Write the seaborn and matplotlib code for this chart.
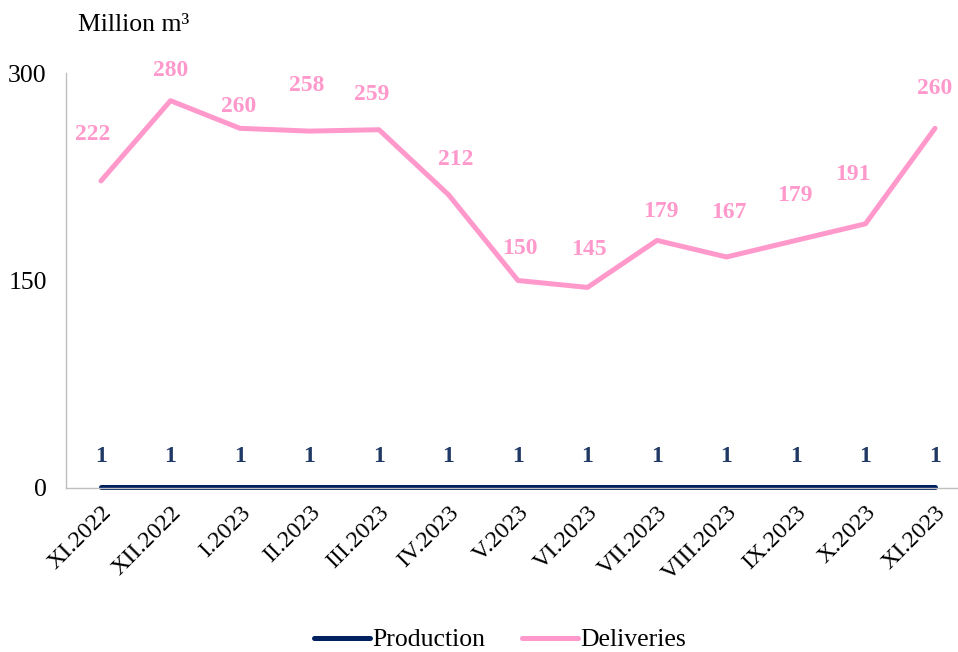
import pandas as pd
import matplotlib.pyplot as plt
import seaborn as sns

sns.set_theme(style="white")
plt.rcParams["font.family"] = ["Liberation Serif", "DejaVu Serif"]
plt.rcParams["text.color"] = "black"

# data
months = ["XI.2022", "XII.2022", "I.2023", "II.2023", "III.2023", "IV.2023",
          "V.2023", "VI.2023", "VII.2023", "VIII.2023", "IX.2023", "X.2023", "XI.2023"]
production = [1, 1, 1, 1, 1, 1, 1, 1, 1, 1, 1, 1, 1]
deliveries = [222, 280, 260, 258, 259, 212, 150, 145, 179, 167, 179, 191, 260]

# label nudges in pixels (dx, dy) to mimic the hand-placed labels
deliv_nudge = [(-8, 46), (0, 30), (-1, 22), (-3, 46), (-7, 35), (7, 35), (2, 32),
               (1, 38), (4, 29), (2, 44), (-1, 45), (-13, 49), (0, 40)]

df = pd.DataFrame({
    "month": months * 2,
    "value": production + deliveries,
    "series": ["Production"] * len(months) + ["Deliveries"] * len(months),
})

NAVY = "#002060"
PINK = "#FF99CC"

fig = plt.figure(figsize=(9.58, 6.52), dpi=100)
ax = fig.add_axes([66.25 / 958, 1 - 488 / 652, 903.5 / 958, 415 / 652])

sns.lineplot(data=df, x="month", y="value", hue="series", sort=False,
             palette={"Production": NAVY, "Deliveries": PINK},
             linewidth=3.6, ax=ax, legend=False)
for ln in ax.lines:
    ln.set_solid_capstyle("round")
    ln.set_clip_on(False)

ax.set_xlim(-0.5, len(months) - 0.5)
ax.set_ylim(0, 300)
ax.set_yticks([0, 150, 300])
ax.set_xlabel("")
ax.set_ylabel("")
ax.tick_params(axis="y", length=0, pad=14, labelsize=18.5, colors="black")
ax.tick_params(axis="x", length=0, pad=10, labelsize=17.5, colors="black")
ax.set_xticks(range(len(months)))
ax.set_xticklabels(months, rotation=45, ha="right", rotation_mode="anchor")
for side in ["top", "right"]:
    ax.spines[side].set_visible(False)
for side in ["left", "bottom"]:
    ax.spines[side].set_color("#BFBFBF")
    ax.spines[side].set_linewidth(1)
ax.grid(False)

px = 0.72  # points per pixel at dpi 100
for i, v in enumerate(deliveries):
    dx, dy = deliv_nudge[i]
    ax.annotate(str(v), (i, v), xytext=(dx * px, dy * px), textcoords="offset points",
                ha="center", va="center", color=PINK, fontsize=17, fontweight="bold")
for i, v in enumerate(production):
    ax.annotate(str(v), (i, v), xytext=(0, 30 * px), textcoords="offset points",
                ha="center", va="center", color="#1F3864", fontsize=17, fontweight="bold")

fig.text(78 / 958, 1 - 25 / 652, "Million m³", fontsize=18.5, ha="left", va="center")

handles = [plt.Line2D([], [], color=NAVY, lw=3.6), plt.Line2D([], [], color=PINK, lw=3.6)]
fig.legend(handles, ["Production", "Deliveries"], loc="center", ncol=2,
           bbox_to_anchor=(500 / 958, 12 / 652), frameon=False, fontsize=18.5,
           handlelength=2.2, handletextpad=0.1, columnspacing=1.4)

fig.savefig("out.png", dpi=100)
